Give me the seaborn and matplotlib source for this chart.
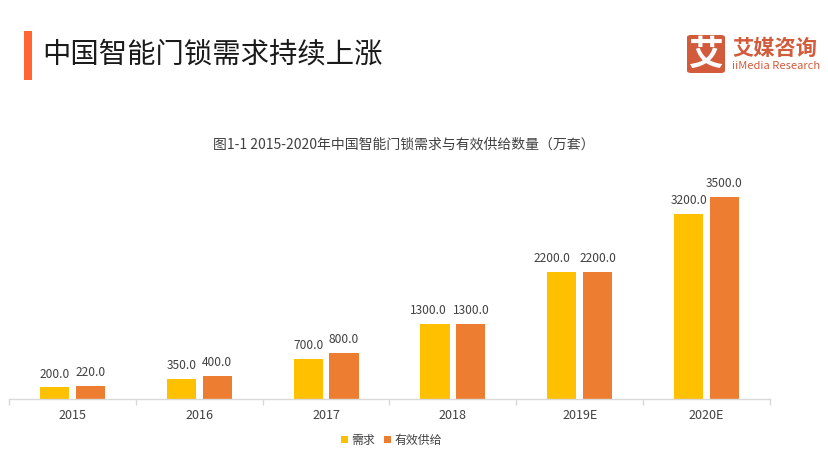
import matplotlib
matplotlib.use("Agg")
import matplotlib.pyplot as plt
from matplotlib.patches import FancyBboxPatch, Rectangle
import pandas as pd
import seaborn as sns

years = ["2015", "2016", "2017", "2018", "2019E", "2020E"]
demand = [200.0, 350.0, 700.0, 1300.0, 2200.0, 3200.0]
supply = [220.0, 400.0, 800.0, 1300.0, 2200.0, 3500.0]
series_names = ["需求", "有效供给"]
colors = ["#FFC000", "#ED7D31"]
title = "中国智能门锁需求持续上涨"
subtitle = "图1-1 2015-2020年中国智能门锁需求与有效供给数量(万套)".replace("(", "（").replace(")", "）")

sns.set_theme(style="white")
plt.rcParams["font.family"] = ["Noto Sans CJK SC", "DejaVu Sans"]

W, H = 829, 461
fig = plt.figure(figsize=(W / 100, H / 100), dpi=100, facecolor="white")
ax = fig.add_axes([9 / W, (H - 399) / H, 761 / W, 229 / H])

df = pd.DataFrame({
    "year": years * 2,
    "series": [series_names[0]] * 6 + [series_names[1]] * 6,
    "value": demand + supply,
})
sns.barplot(data=df, x="year", y="value", hue="series", palette=colors,
            width=0.567, gap=0.19, saturation=1, linewidth=0, ax=ax, legend=False)
ax.set_xlim(-0.5, 5.5)
ax.set_ylim(0, 3965)
left_label_shift_pt = [0, 0, 0, -5, -7, 0]
for k, c in enumerate(ax.containers):
    labels = ax.bar_label(c, fmt="%.1f", padding=5, fontsize=8.6, color="#404040")
    if k == 0:
        for lab, dx in zip(labels, left_label_shift_pt):
            lab.xyann = (dx, lab.xyann[1])

for s in ["top", "left", "right"]:
    ax.spines[s].set_visible(False)
ax.spines["bottom"].set_color("#D9D9D9")
ax.spines["bottom"].set_linewidth(1)
ax.set_yticks([])
ax.set_xlabel("")
ax.set_ylabel("")
ax.set_xticks([i - 0.5 for i in range(7)], minor=True)
ax.tick_params(axis="x", which="minor", length=4, width=1, color="#D9D9D9", direction="out", bottom=True)
ax.tick_params(axis="x", which="major", length=0, pad=7, labelsize=9, labelcolor="#404040")


def px_text(x, y, s, **kw):
    fig.text(x / W, 1 - y / H, s, **kw)


def px_rect(x, y, w, h, color):
    fig.add_artist(Rectangle((x / W, 1 - (y + h) / H), w / W, h / H, color=color, lw=0,
                             transform=fig.transFigure))


# Heading
px_rect(24, 31, 8, 49, "#FF6633")
px_text(42, 55, title, fontsize=20.4, color="#1A1A1A", va="center", ha="left")
px_text(403.5, 145, subtitle, fontsize=10, color="#404040", va="center", ha="center")

# Legend
px_rect(341, 436, 7, 7, colors[0])
px_text(351, 440, series_names[0], fontsize=8.6, color="#404040", va="center")
px_rect(384, 436, 7, 7, colors[1])
px_text(395, 440, series_names[1], fontsize=8.6, color="#404040", va="center")

# Logo
fig.add_artist(FancyBboxPatch((687 / W, 1 - 73 / H), 38 / W, 38 / H,
                              boxstyle="round,pad=0,rounding_size=0.005",
                              fc="#D25B3C", ec="none", transform=fig.transFigure))
px_text(706, 54, "艾", fontsize=25, color="white", weight="bold", ha="center", va="center")
px_text(732, 48, "艾媒咨询", fontsize=15.3, color="#D25B3C", weight="bold", va="center")
px_text(732, 66, "iiMedia Research", fontsize=8, color="#D25B3C", weight="medium", va="center")

fig.savefig("out.png", dpi=100)
